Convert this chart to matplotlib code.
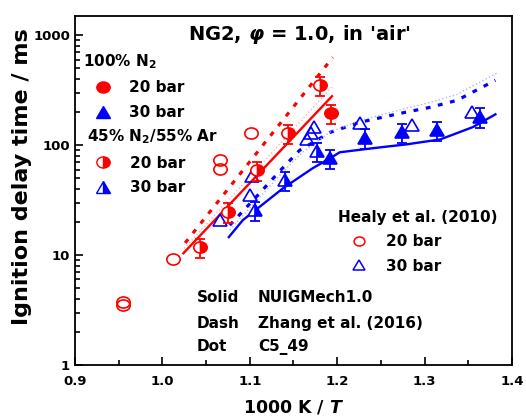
import numpy as np
import matplotlib
matplotlib.use("Agg")
import matplotlib.pyplot as plt
from matplotlib.lines import Line2D
from matplotlib.markers import MarkerStyle
from matplotlib.transforms import Affine2D
from matplotlib.ticker import LogLocator, NullFormatter, FixedLocator

plt.rcParams['font.family'] = ['DejaVu Sans']
plt.rcParams['font.weight'] = 'bold'
plt.rcParams['mathtext.fontset'] = 'custom'
plt.rcParams['mathtext.rm'] = 'DejaVu Sans:bold'
plt.rcParams['mathtext.it'] = 'DejaVu Sans:bold:italic'
plt.rcParams['mathtext.bf'] = 'DejaVu Sans:bold'

# experiments, 1000 K / T and IDT (ms)
healy20_x = [0.955, 0.955, 1.012, 1.066, 1.066, 1.101]
healy20_y = [3.75, 3.5, 9.3, 74, 61, 128]
healy30_x = [1.066, 1.100, 1.103, 1.166, 1.170, 1.174, 1.226, 1.286, 1.354]
healy30_y = [21, 35, 52, 113, 128, 146, 158, 152, 200]

n2_20_x = [1.193]
n2_20_y = [195]
ar_20_x = [1.043, 1.075, 1.108, 1.144, 1.180]
ar_20_y = [11.8, 24.6, 59, 128, 350]
n2_30_x = [1.192, 1.232, 1.274, 1.314, 1.363]
n2_30_y = [76, 116, 131, 137, 180]
ar_30_x = [1.106, 1.140, 1.177]
ar_30_y = [25.6, 48, 88]
rel_err = 0.2

# simulations
nuig20_x = [1.024, 1.194]
nuig20_y = [10.4, 279]
zhang20_x = [1.026, 1.195]
zhang20_y = [12.9, 631]
c549_20_x = [1.025, 1.194]
c549_20_y = [11.5, 340]

nuig30_x = [1.076, 1.092, 1.138, 1.172, 1.192, 1.203, 1.241, 1.280, 1.318, 1.355, 1.381]
nuig30_y = [14.6, 20.8, 40.6, 61.8, 76.2, 86.3, 94, 102, 113, 146, 191]
zhang30_x = [1.077, 1.109, 1.135, 1.157, 1.192, 1.226, 1.272, 1.306, 1.337, 1.381]
zhang30_y = [18.7, 35, 59, 90, 131, 162, 195, 221, 256, 390]
c549_30_x = [1.077, 1.109, 1.135, 1.160, 1.192, 1.226, 1.272, 1.306, 1.337, 1.384]
c549_30_y = [17, 32, 54, 86, 132, 168, 210, 245, 290, 460]

red = '#ff0000'
blue = '#0000ff'

# markers are a bit wider than tall in the original
wide = Affine2D().scale(1.2, 1.0)
def mk(m, fs='full'):
    return MarkerStyle(m, fillstyle=fs, transform=wide)

fig = plt.figure(figsize=(5.26, 4.17), dpi=100)
ax = fig.add_axes([75/526, 52/417, 437/526, 349/417])

# model lines
ax.plot(nuig20_x, nuig20_y, color=red, lw=1.7)
ax.plot(zhang20_x, zhang20_y, color=red, lw=2.3, dashes=(1.5, 2.4))
ax.plot(c549_20_x, c549_20_y, color='#ffb4b4', lw=1.0, ls=':')
ax.plot(nuig30_x, nuig30_y, color=blue, lw=1.7)
ax.plot(zhang30_x, zhang30_y, color=blue, lw=2.3, dashes=(1.5, 2.4))
ax.plot(c549_30_x, c549_30_y, color='#b4b4ff', lw=1.0, ls=':')

ms_c = 8
ms_t = 8.5
ebkw = dict(fmt='none', capsize=3.5, elinewidth=1.3, capthick=1.3)

ax.plot(healy20_x, healy20_y, ls='none', marker=mk('o'), ms=ms_c, mfc='none', mec=red, mew=1.2)
ax.plot(healy30_x, healy30_y, ls='none', marker=mk('^'), ms=ms_t, mfc='none', mec=blue, mew=1.2)

for xs, ys, m, fs, c, ms in [(ar_20_x, ar_20_y, 'o', 'right', red, ms_c),
                             (n2_20_x, n2_20_y, 'o', 'full', red, ms_c),
                             (ar_30_x, ar_30_y, '^', 'right', blue, ms_t),
                             (n2_30_x, n2_30_y, '^', 'full', blue, ms_t)]:
    ys = np.array(ys)
    ax.errorbar(xs, ys, yerr=ys*rel_err, ecolor=c, **ebkw)
    ax.plot(xs, ys, ls='none', marker=mk(m, fs), ms=ms, mfc=c, mec=c,
            mfcalt='white', mew=1.2)

ax.set_yscale('log')
ax.set_xlim(0.9, 1.4)
ax.set_ylim(1, 1500)
ax.xaxis.set_major_locator(FixedLocator([0.9, 1.0, 1.1, 1.2, 1.3, 1.4]))
ax.xaxis.set_minor_locator(FixedLocator([0.95, 1.05, 1.15, 1.25, 1.35]))
ax.set_xticklabels(['0.9', '1.0', '1.1', '1.2', '1.3', '1.4'])
ax.yaxis.set_major_locator(FixedLocator([1, 10, 100, 1000]))
ax.set_yticklabels(['1', '10', '100', '1000'])
ax.yaxis.set_minor_locator(LogLocator(base=10, subs=np.arange(2, 10)))
ax.yaxis.set_minor_formatter(NullFormatter())
ax.tick_params(which='both', direction='in', top=False, right=False, labelsize=9.5, width=1.2)
ax.tick_params(which='major', length=6)
ax.tick_params(which='minor', length=3.5)
ax.tick_params(axis='x', pad=7)
for s in ax.spines.values():
    s.set_linewidth(1.3)

ax.set_xlabel('1000 K / $T$', fontsize=12.5, fontweight='bold')
ax.set_ylabel('Ignition delay time / ms', fontsize=16, fontweight='bold')
ax.xaxis.set_label_coords(0.5, -0.095)
ax.yaxis.set_label_coords(-0.098, 0.54)

ax.text(0.513, 0.946, r"NG2, $\varphi$ = 1.0, in 'air'", transform=ax.transAxes,
        ha='center', va='center', fontsize=14, fontweight='bold')

def legend_kw(hl, tp):
    return dict(frameon=False, fontsize=11, handletextpad=tp, labelspacing=0.62,
                borderpad=0, borderaxespad=0, handlelength=hl, alignment='left',
                title_fontproperties={'weight': 'bold', 'size': 11})

h_n2 = [Line2D([], [], marker=mk('o'), ms=ms_c, color=red, ls='none'),
        Line2D([], [], marker=mk('^'), ms=ms_t, color=blue, ls='none')]
h_ar = [Line2D([], [], marker=mk('o', 'right'), ms=ms_c, color=red, mfc=red, mfcalt='white', ls='none'),
        Line2D([], [], marker=mk('^', 'right'), ms=ms_t, color=blue, mfc=blue, mfcalt='white', ls='none')]
h_he = [Line2D([], [], marker=mk('o'), ms=6.5, mfc='none', mec=red, mew=1.1, ls='none'),
        Line2D([], [], marker=mk('^'), ms=7, mfc='none', mec=blue, mew=1.1, ls='none')]
labels = ['20 bar', '30 bar']

l1 = ax.legend(h_n2, labels, title='100% N$_2$', loc='upper left',
               bbox_to_anchor=(0.018, 0.896), **legend_kw(2.6, 0.45))
ax.add_artist(l1)
l2 = ax.legend(h_ar, labels, title='45% N$_2$/55% Ar', loc='upper left',
               bbox_to_anchor=(0.027, 0.681), **legend_kw(2.1, 0.7))
ax.add_artist(l2)
l3 = ax.legend(h_he, labels, title='Healy et al. (2010)', loc='upper left',
               bbox_to_anchor=(0.602, 0.445), **legend_kw(2.7, 0.45))
for l in (l1, l2, l3):
    for t in l.get_texts():
        t.set_fontweight('bold')

model_names = ['Solid', 'Dash', 'Dot']
model_labels = ['NUIGMech1.0', 'Zhang et al. (2016)', 'C5_49']
model_y = [0.192, 0.119, 0.052]
for a, b, yy in zip(model_names, model_labels, model_y):
    ax.text(0.279, yy, a, transform=ax.transAxes, fontsize=11, fontweight='bold', va='center')
    ax.text(0.419, yy, b, transform=ax.transAxes, fontsize=11, fontweight='bold', va='center')

fig.savefig('out.png', dpi=100)
